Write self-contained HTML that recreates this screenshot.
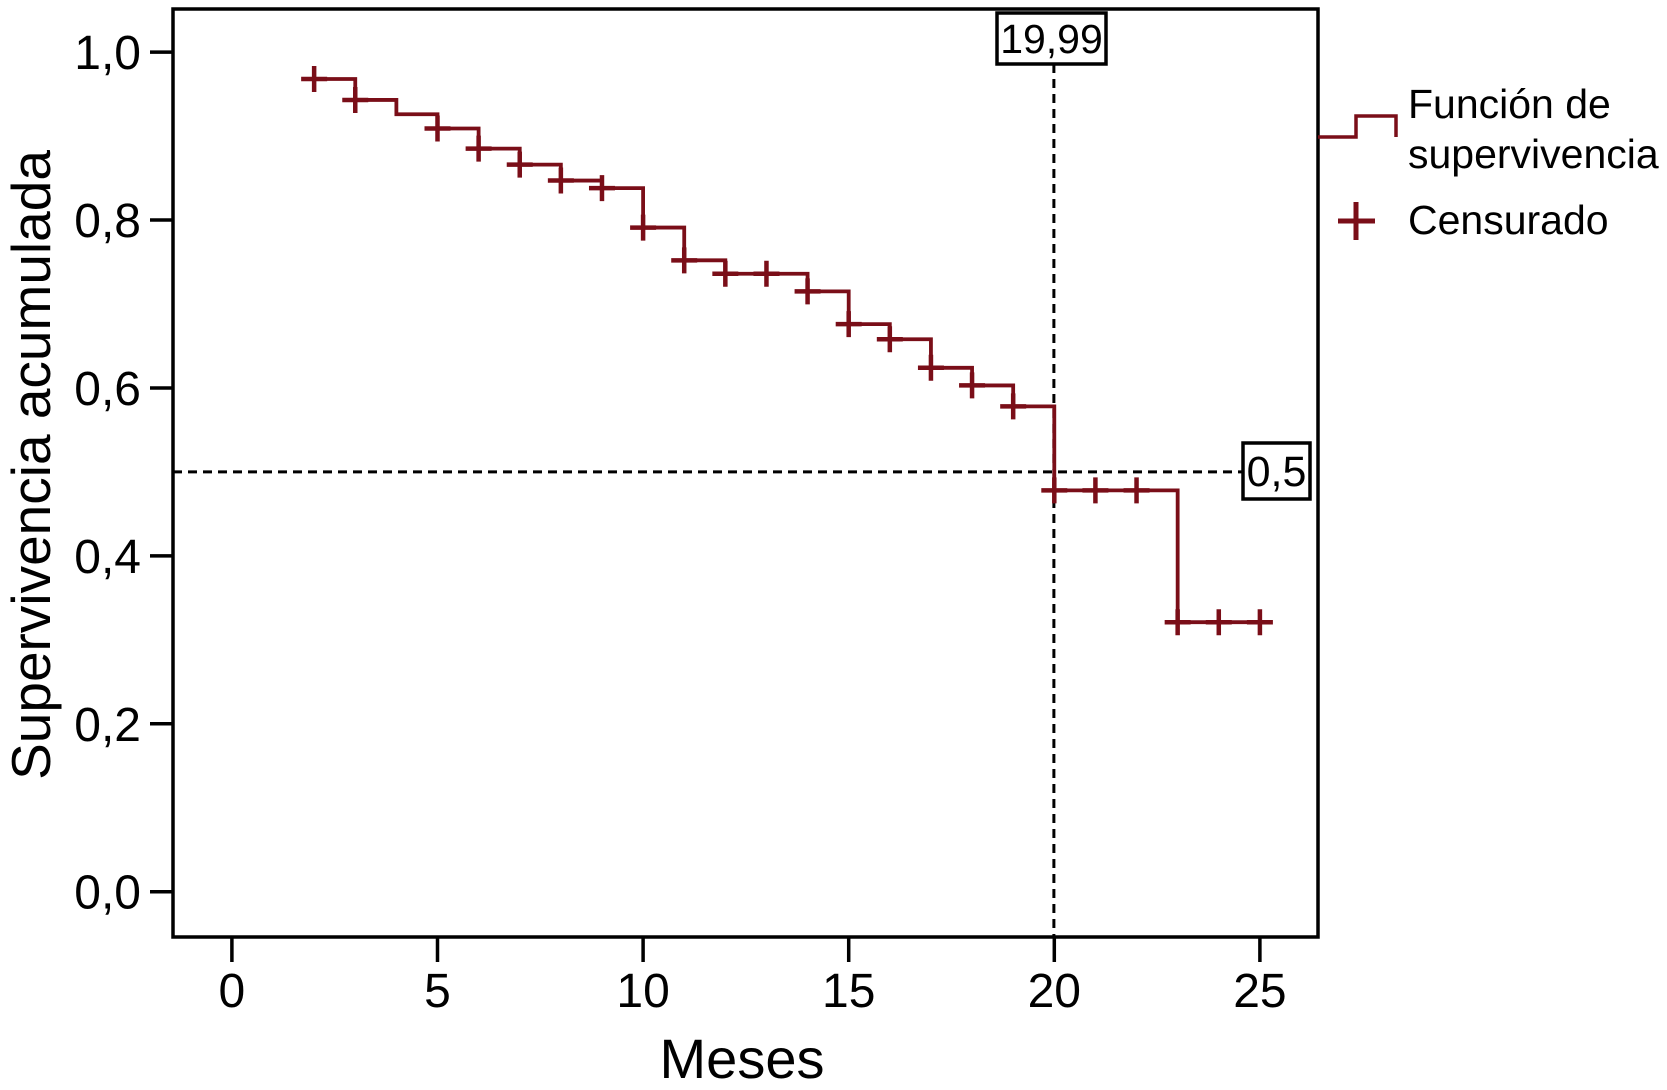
<!DOCTYPE html>
<html><head><meta charset="utf-8"><style>
html,body{margin:0;padding:0;background:#fff;}
svg{display:block;font-family:"Liberation Sans",Arial,sans-serif;}
</style></head><body>
<svg id="chart" width="1667" height="1090" viewBox="0 0 1667 1090">
<rect x="0" y="0" width="1667" height="1090" fill="#fff"/>
<g id="plot"></g>
</svg>
<script>
var stepTimes = [2,3,4,5,6,7,8,9,10,11,12,14,15,16,17,18,19,20,23,25];
var stepSurv = [0.968,0.943,0.926,0.909,0.885,0.866,0.847,0.838,0.791,0.752,0.736,0.715,0.676,0.658,0.624,0.603,0.578,0.478,0.321,0.321];
var censorTimes = [2,3,5,6,7,8,9,10,11,12,13,14,15,16,17,18,19,20,21,22,23,24,25];
var xTicks = [0,5,10,15,20,25];
var yTicks = [0,0.2,0.4,0.6,0.8,1.0];
var yTickLabels = ["0,0","0,2","0,4","0,6","0,8","1,0"];
var medianTime = 19.99;
var medianLabel = "19,99";
var medianSurv = 0.5;
var medianSurvLabel = "0,5";

var NS = "http://www.w3.org/2000/svg";
var L=173,R=1318,T=9,B=937;
function sx(v){return 231.9+v*41.12;}
function sy(v){return 891.7-v*839.6;}
function interp(t){var s=stepSurv[0];for(var i=0;i<stepTimes.length;i++){if(stepTimes[i]<=t)s=stepSurv[i];}return s;}
var g=document.getElementById('plot');
function mk(tag,attrs,parent){var e=document.createElementNS(NS,tag);for(var k in attrs)e.setAttribute(k,attrs[k]);(parent||g).appendChild(e);return e;}

var hl=mk('line',{x1:L,y1:sy(medianSurv),x2:1242,y2:sy(medianSurv),stroke:'#000','stroke-width':3,'stroke-dasharray':'9,6'});


var vl=mk('line',{x1:sx(medianTime),y1:64,x2:sx(medianTime),y2:B,stroke:'#000','stroke-width':3,'stroke-dasharray':'9,6'});



var d='M'+sx(stepTimes[0])+','+sy(stepSurv[0]);
for(var i=1;i<stepTimes.length;i++){d+=' H'+sx(stepTimes[i])+' V'+sy(stepSurv[i]);}
var curve=mk('path',{d:d,fill:'none',stroke:'#7a0e18','stroke-width':3.8});



for(var j=0;j<censorTimes.length;j++){
  var cx=sx(censorTimes[j]),cy=sy(interp(censorTimes[j]));
  var c=mk('path',{d:'M'+(cx-13)+','+cy+' H'+(cx+13)+' M'+cx+','+(cy-13)+' V'+(cy+13),stroke:'#7a0e18','stroke-width':4.5,fill:'none'});
  
  
}

var fr=mk('rect',{x:L,y:T,width:R-L,height:B-T,fill:'none',stroke:'#000','stroke-width':3.5});



for(var a=0;a<yTicks.length;a++){
  var y=sy(yTicks[a]);
  var tk=mk('line',{x1:150,y1:y,x2:L,y2:y,stroke:'#000','stroke-width':3.5});
  
  
  var tl=mk('text',{x:141,y:y+17,'font-size':48,'text-anchor':'end',fill:'#000'});
  tl.textContent=yTickLabels[a];
  
  
}
for(var b=0;b<xTicks.length;b++){
  var x=sx(xTicks[b]);
  var xt=mk('line',{x1:x,y1:B,x2:x,y2:962,stroke:'#000','stroke-width':3.5});
  
  
  var xl=mk('text',{x:x,y:1007,'font-size':48,'text-anchor':'middle',fill:'#000'});
  xl.textContent=String(xTicks[b]);
  
  
}
var xtitle=mk('text',{x:742,y:1078,'font-size':56,'text-anchor':'middle',fill:'#000'});
xtitle.textContent='Meses';


var ytitle=mk('text',{x:0,y:0,'font-size':55,'text-anchor':'middle',fill:'#000',transform:'translate(50,465) rotate(-90)'});
ytitle.textContent='Supervivencia acumulada';



var b1=mk('rect',{x:997,y:13,width:109,height:51,fill:'#fff',stroke:'#000','stroke-width':3.5});


var t1=mk('text',{x:1051.5,y:53,'font-size':41,'text-anchor':'middle',fill:'#000'});
t1.textContent=medianLabel;


var b2=mk('rect',{x:1243,y:443,width:67,height:56,fill:'#fff',stroke:'#000','stroke-width':3.5});


var t2=mk('text',{x:1276.5,y:486,'font-size':43,'text-anchor':'middle',fill:'#000'});
t2.textContent=medianSurvLabel;



var lg=mk('path',{d:'M1318,137 H1356 V116 H1396 V137',fill:'none',stroke:'#7a0e18','stroke-width':3.5});


var lt1=mk('text',{x:1408,y:118,'font-size':41,fill:'#000'});
lt1.textContent='Función de';


var lt2=mk('text',{x:1408,y:168,'font-size':41,fill:'#000'});
lt2.textContent='supervivencia';


var lc=mk('path',{d:'M1338,221 H1375 M1356,202 V240',fill:'none',stroke:'#7a0e18','stroke-width':5});


var lt3=mk('text',{x:1408,y:234,'font-size':41,fill:'#000'});
lt3.textContent='Censurado';


</script>
</body></html>
